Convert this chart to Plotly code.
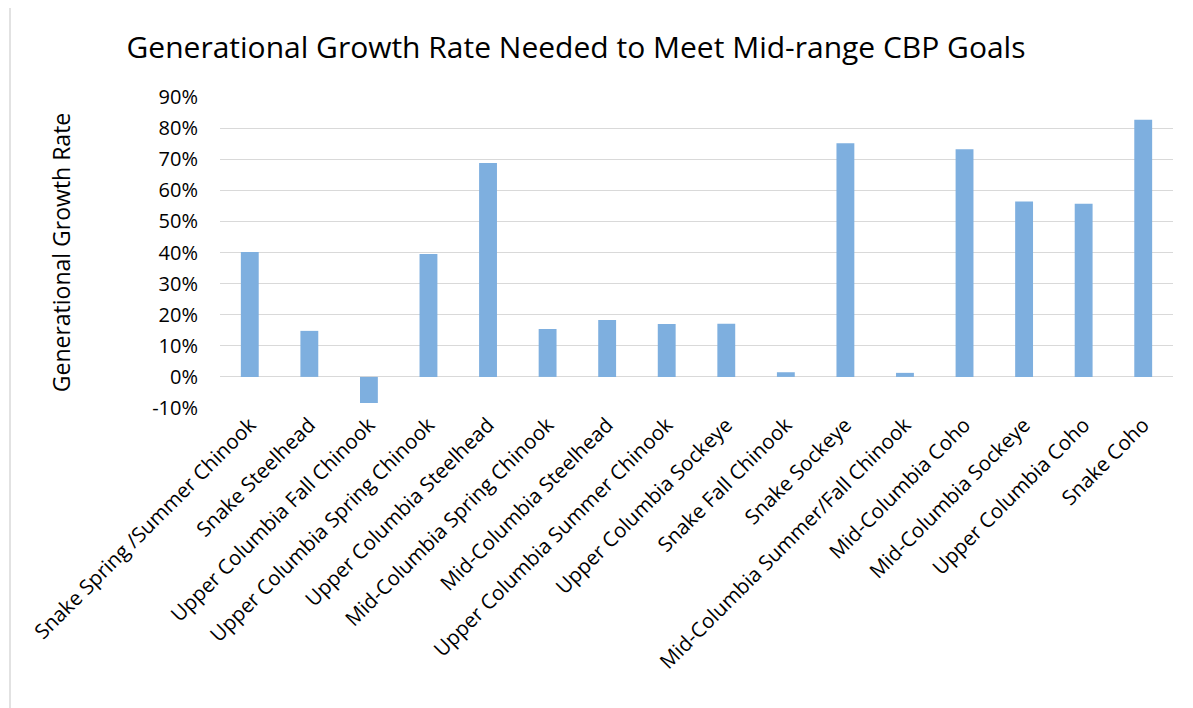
import plotly.graph_objects as go

categories = [
    "Snake Spring /Summer Chinook",
    "Snake Steelhead",
    "Upper Columbia Fall Chinook",
    "Upper Columbia Spring Chinook",
    "Upper Columbia Steelhead",
    "Mid-Columbia Spring Chinook",
    "Mid-Columbia Steelhead",
    "Upper Columbia Summer Chinook",
    "Upper Columbia Sockeye",
    "Snake Fall Chinook",
    "Snake Sockeye",
    "Mid-Columbia Summer/Fall Chinook",
    "Mid-Columbia Coho",
    "Mid-Columbia Sockeye",
    "Upper Columbia Coho",
    "Snake Coho",
]
growth_rate = [0.402, 0.148, -0.084, 0.395, 0.688, 0.154, 0.183, 0.170, 0.171,
               0.015, 0.751, 0.013, 0.732, 0.564, 0.557, 0.827]
y_ticks = [-0.1, 0, 0.1, 0.2, 0.3, 0.4, 0.5, 0.6, 0.7, 0.8, 0.9]
y_tick_labels = ["-10%", "0%", "10%", "20%", "30%", "40%", "50%", "60%", "70%", "80%", "90%"]

FONT = "Open Sans, Noto Sans, Liberation Sans, sans-serif"

W, H = 1185, 700
ML, MR, MT, MB = 212, 20, 89, 300
PW = W - ML - MR
PH = H - MT - MB

fig = go.Figure(
    go.Bar(
        x=categories,
        y=growth_rate,
        marker=dict(color="#7EAFDF", line=dict(width=0)),
        width=0.30,
    )
)

fig.update_layout(
    width=W,
    height=H,
    paper_bgcolor="white",
    plot_bgcolor="white",
    margin=dict(l=ML, r=MR, t=MT, b=MB),
    showlegend=False,
    font=dict(family=FONT, color="#000000"),
    title=dict(
        text="Generational Growth Rate Needed to Meet Mid-range CBP Goals",
        x=(576 - 8) / W, xanchor="center", xref="container",
        y=1 - 39 / H, yanchor="middle", yref="container",
        font=dict(size=30, family=FONT, color="#000000"),
    ),
    xaxis=dict(
        tickangle=-45,
        tickfont=dict(size=20.5, family=FONT, color="#000000"),
        showgrid=False,
        showline=False,
        zeroline=False,
        automargin=False,
    ),
    yaxis=dict(
        range=[-0.1, 0.9],
        tickvals=y_ticks,
        ticktext=y_tick_labels,
        tickfont=dict(size=20, family=FONT, color="#000000"),
        showgrid=True,
        gridcolor="#D9D9D9",
        gridwidth=1.4,
        zeroline=False,
        showline=False,
        ticklabelstandoff=21,
        automargin=False,
        title=dict(text="Generational Growth Rate", standoff=75,
                   font=dict(size=23, family=FONT, color="#000000")),
    ),
)

# Chart border on the left edge
fig.add_shape(type="line", xref="paper", yref="paper",
              x0=(2 - ML) / PW, x1=(2 - ML) / PW,
              y0=-MB / PH, y1=(H - MB) / PH,
              line=dict(color="#D9D9D9", width=1.5))

fig.write_html("out.html")
